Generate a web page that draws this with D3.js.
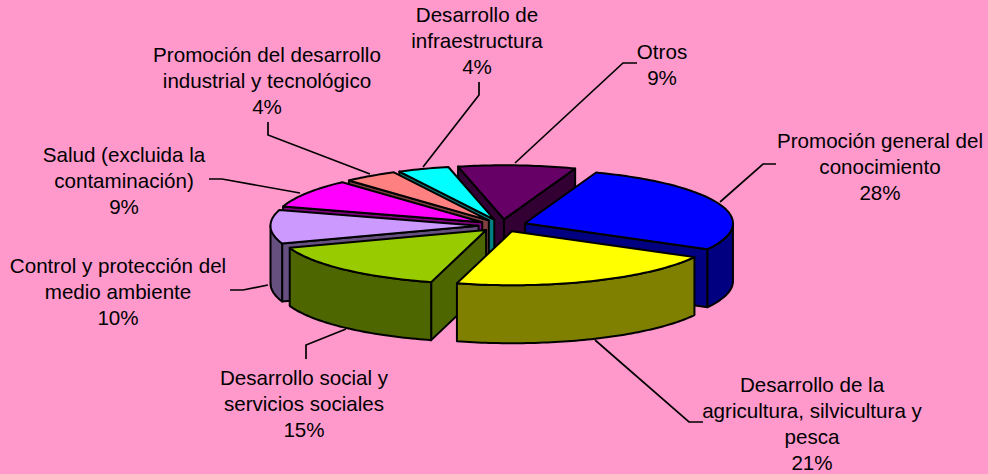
<!DOCTYPE html>
<html>
<head>
<meta charset="utf-8">
<style>
body { margin: 0; background: #FF99CC; }
svg { display: block; }
text { font-family: "Liberation Sans", Arial, sans-serif; font-size: 20.6px; fill: #000; }
</style>
<script src="https://cdn.jsdelivr.net/npm/d3@7"></script>
</head>
<body>
<div id="chart"></div>
<script>
const categories = [
    ["Promoción general del", "conocimiento"],
    ["Desarrollo de la", "agricultura, silvicultura y", "pesca"],
    ["Desarrollo social y", "servicios sociales"],
    ["Control y protección del", "medio ambiente"],
    ["Salud (excluida la", "contaminación)"],
    ["Promoción del desarrollo", "industrial y tecnológico"],
    ["Desarrollo de", "infraestructura"],
    ["Otros"]
];
// slice sizes, the printed labels are rounded
const values = [27.4, 21.3, 15.4, 10, 8.6, 4.2, 4, 9.1];
const percentLabels = ["28%", "21%", "15%", "10%", "9%", "4%", "4%", "9%"];
const topColors = ["#0000FF", "#FFFF00", "#99CC00", "#CC99FF", "#FF00FF", "#FF8080", "#00FFFF", "#660066"];
const wallColors = ["#000080", "#808000", "#4D6600", "#665080", "#800080", "#804040", "#008080", "#330033"];

// where each label sits and how its leader bends (not data, just layout)
const labelX = [880, 812, 304, 118, 124, 267, 477, 662];
const labelY = [148, 392, 385, 273, 162, 62, 22, 59];
const leaders = [
    [[720, 202], [763, 164], [776, 164]],
    [[595, 340], [689, 422], [703, 422]],
    [[346, 329], [306, 345], [306, 359]],
    [[268, 285], [243, 290], [230, 290]],
    [[300, 193], [222, 179], [209, 179]],
    [[370, 174], [268, 135], [268, 122]],
    [[423, 167], [479, 95], [479, 82]],
    [[515, 163], [623, 63], [637, 63]]
];

const width = 988, height = 474;
const cx = 502.5, cy = 225.5;
const rx = 208, ry = 54, depth = 58, explode = 24;
const tilt = ry / rx;
const lineGap = 26;

const svg = d3.select("#chart").append("svg")
    .attr("width", width)
    .attr("height", height);

svg.append("rect")
    .attr("width", width)
    .attr("height", height)
    .attr("fill", "#FF99CC");

const pie = d3.pie().sort(null)
    .startAngle(20 * Math.PI / 180)
    .endAngle(380 * Math.PI / 180);

const slices = pie(values).map((d, i) => {
    const mid = (d.startAngle + d.endAngle) / 2;
    return {
        i,
        a0: d.startAngle,
        a1: d.endAngle,
        mid,
        x: cx + explode * Math.sin(mid),
        y: cy - explode * tilt * Math.cos(mid)
    };
});

const line = d3.line();

function rim(s, a, dy) {
    return [s.x + rx * Math.sin(a), s.y - ry * Math.cos(a) + dy];
}

function arcPoints(s, a0, a1, dy) {
    const n = Math.max(2, Math.ceil((a1 - a0) / 0.02));
    return d3.range(n + 1).map(k => rim(s, a0 + (a1 - a0) * k / n, dy));
}

const faceStyle = sel => sel
    .attr("stroke", "#000")
    .attr("stroke-width", 2)
    .attr("stroke-linejoin", "round");

// back slices first, front ones paint over them
const order = slices.slice().sort((a, b) => d3.descending(Math.cos(a.mid), Math.cos(b.mid)));

const g = svg.selectAll(".slice")
    .data(order)
    .enter().append("g")
    .attr("class", "slice");

g.each(function(s) {
    const node = d3.select(this);
    const walls = [];
    // radial walls, only the ones turned to the viewer
    if (Math.sin(s.a0) < 0) {
        walls.push([[s.x, s.y], rim(s, s.a0, 0), rim(s, s.a0, depth), [s.x, s.y + depth]]);
    }
    if (Math.sin(s.a1) > 0) {
        walls.push([[s.x, s.y], rim(s, s.a1, 0), rim(s, s.a1, depth), [s.x, s.y + depth]]);
    }
    // outer curved wall, front half of the ellipse only
    const from = Math.max(s.a0, Math.PI / 2);
    const to = Math.min(s.a1, 3 * Math.PI / 2);
    if (to > from) {
        walls.push(arcPoints(s, from, to, 0).concat(arcPoints(s, from, to, depth).reverse()));
    }
    walls.forEach(w => {
        node.append("path")
            .attr("d", line(w) + "Z")
            .attr("fill", wallColors[s.i])
            .call(faceStyle);
    });
    node.append("path")
        .attr("d", line([[s.x, s.y]].concat(arcPoints(s, s.a0, s.a1, 0))) + "Z")
        .attr("fill", topColors[s.i])
        .call(faceStyle);
});

svg.selectAll(".leader")
    .data(leaders)
    .enter().append("path")
    .attr("class", "leader")
    .attr("d", d => line(d))
    .attr("fill", "none")
    .attr("stroke", "#000")
    .attr("stroke-width", 1.7);

const labels = svg.selectAll(".label")
    .data(categories)
    .enter().append("text")
    .attr("class", "label")
    .attr("text-anchor", "middle")
    .attr("transform", (d, i) => `translate(${labelX[i]},${labelY[i]})`);

labels.each(function(d, i) {
    const rows = d.concat(percentLabels[i]);
    d3.select(this).selectAll("tspan")
        .data(rows)
        .enter().append("tspan")
        .attr("x", 0)
        .attr("y", (r, k) => k * lineGap)
        .text(r => r);
});
</script>
</body>
</html>
